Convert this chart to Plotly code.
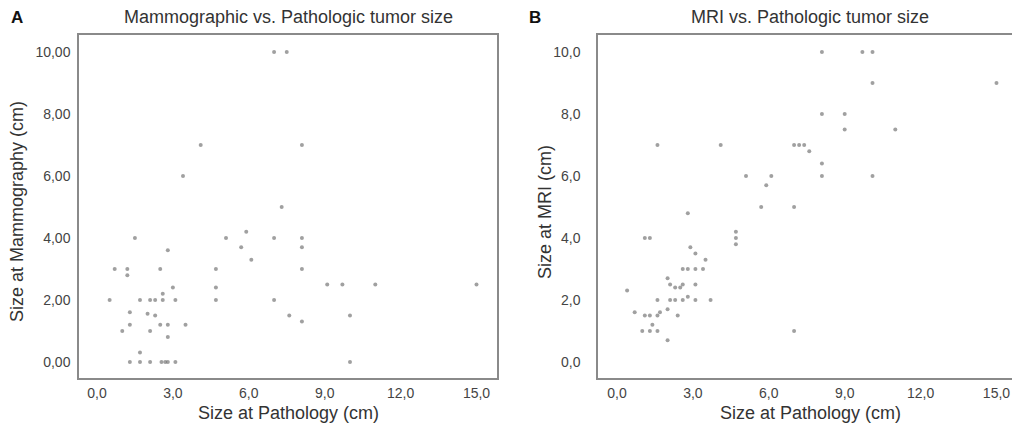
import plotly.graph_objects as go

# Panel A: Mammographic vs. pathologic tumor size (cm)
mammo_path = [0.5, 0.7, 1.0, 1.2, 1.2, 1.3, 1.3, 1.3, 1.7, 1.7, 1.7, 1.5, 2.0, 2.1, 2.1, 2.1,
              2.3, 2.3, 2.5, 2.5, 2.6, 2.6, 2.55, 2.7, 2.8, 2.8, 2.8, 2.8, 3.0, 3.1, 3.1, 3.5,
              3.4, 4.1, 4.7, 4.7, 4.7, 5.1, 5.7, 5.9, 6.1, 7.0, 7.0, 7.0, 7.3, 7.5, 7.6, 8.1,
              8.1, 8.1, 8.1, 8.1, 9.1, 9.7, 10.0, 10.0, 11.0, 15.0]
mammo_size = [2.0, 3.0, 1.0, 3.0, 2.8, 1.6, 1.2, 0.0, 0.0, 0.3, 2.0, 4.0, 1.55, 2.0, 1.0, 0.0,
              2.0, 1.5, 3.0, 1.2, 2.2, 2.0, 0.0, 0.0, 0.0, 1.2, 0.8, 3.6, 2.4, 2.0, 0.0, 1.2,
              6.0, 7.0, 3.0, 2.4, 2.0, 4.0, 3.7, 4.2, 3.3, 4.0, 2.0, 10.0, 5.0, 10.0, 1.5, 7.0,
              4.0, 3.7, 3.0, 1.3, 2.5, 2.5, 1.5, 0.0, 2.5, 2.5]

# Panel B: MRI vs. pathologic tumor size (cm)
mri_path = [0.4, 0.7, 1.0, 1.1, 1.1, 1.3, 1.3, 1.3, 1.4, 1.6, 1.6, 1.6, 1.6, 1.7, 2.0, 2.0,
            2.0, 2.1, 2.1, 2.3, 2.3, 2.4, 2.5, 2.6, 2.6, 2.6, 2.8, 2.8, 2.8, 2.9, 3.1, 3.1,
            3.1, 3.1, 3.4, 3.5, 3.7, 4.1, 4.7, 4.7, 4.7, 5.1, 5.7, 5.9, 6.1, 7.0, 7.0, 7.0,
            7.2, 7.4, 7.6, 8.1, 8.1, 8.1, 8.1, 9.0, 9.0, 9.7, 10.1, 10.1, 10.1, 11.0, 15.0]
mri_size = [2.3, 1.6, 1.0, 1.5, 4.0, 4.0, 1.5, 1.0, 1.2, 7.0, 2.0, 1.5, 1.0, 1.6, 1.7, 2.7,
            0.7, 2.5, 2.0, 2.4, 2.0, 1.5, 2.4, 2.5, 3.0, 2.0, 3.0, 2.1, 4.8, 3.7, 3.5, 3.0,
            2.5, 2.0, 3.0, 3.3, 2.0, 7.0, 4.2, 4.0, 3.8, 6.0, 5.0, 5.7, 6.0, 7.0, 5.0, 1.0,
            7.0, 7.0, 6.8, 10.0, 8.0, 6.4, 6.0, 8.0, 7.5, 10.0, 10.0, 9.0, 6.0, 7.5, 9.0]

x_ticks = [0, 3, 6, 9, 12, 15]
y_ticks = [0, 2, 4, 6, 8, 10]
panel_titles = ["Mammographic vs. Pathologic tumor size", "MRI vs. Pathologic tumor size"]
panel_letters = ["A", "B"]
x_title = "Size at Pathology (cm)"
y_titles = ["Size at Mammography (cm)", "Size at MRI (cm)"]

FONT = "Liberation Sans, Arial, sans-serif"
marker = dict(size=4, color="rgba(120,120,120,0.7)", line=dict(width=0))

# page body has an 8px margin; figure is sized/positioned to compensate
OFF = 8
W, H = 1012, 423


def px(x):
    return (x - OFF) / W


def py(y):
    return 1 - (y - OFF) / H


fig = go.Figure()
fig.add_trace(go.Scatter(x=mammo_path, y=mammo_size, mode="markers", marker=marker,
                         xaxis="x", yaxis="y", showlegend=False))
fig.add_trace(go.Scatter(x=mri_path, y=mri_size, mode="markers", marker=marker,
                         xaxis="x2", yaxis="y2", showlegend=False))

ydom = [py(378), py(35)]

axis_common = dict(showgrid=False, zeroline=False, showline=True, mirror=True,
                   linecolor="#8a8a8a", linewidth=1.5, ticks="",
                   tickfont=dict(family=FONT, size=14, color="#444"))

fig.update_layout(
    width=W, height=H,
    margin=dict(l=0, r=0, t=0, b=0),
    paper_bgcolor="white", plot_bgcolor="white",
    separators=", ",
    font=dict(family=FONT, color="#333"),
    xaxis=dict(domain=[px(79), px(497)], range=[-0.71, 15.81], tickvals=x_ticks,
               tickformat=".1f", anchor="y", ticklabelstandoff=1, **axis_common),
    yaxis=dict(domain=ydom, range=[-0.52, 10.55], tickvals=y_ticks, tickformat=".2f",
               anchor="x", ticklabelstandoff=4, **axis_common),
    xaxis2=dict(domain=[px(598), px(1018)], range=[-0.75, 15.85], tickvals=x_ticks,
                tickformat=".1f", anchor="y2", ticklabelstandoff=1, **axis_common),
    yaxis2=dict(domain=ydom, range=[-0.52, 10.55], tickvals=y_ticks, tickformat=".1f",
                anchor="x2", ticklabelstandoff=13, **axis_common),
)

title_font = dict(family=FONT, size=18, color="#333")
for i, (cx, lx, ytx) in enumerate([(288, 17, 17), (810, 535, 545)]):
    fig.add_annotation(x=px(cx), y=py(17), xref="paper", yref="paper", text=panel_titles[i],
                       showarrow=False, xanchor="center", yanchor="middle", font=title_font)
    fig.add_annotation(x=px(lx), y=py(17), xref="paper", yref="paper",
                       text="<b>" + panel_letters[i] + "</b>",
                       showarrow=False, xanchor="center", yanchor="middle",
                       font=dict(family=FONT, size=17, color="#111"))
    fig.add_annotation(x=px(cx), y=py(413), xref="paper", yref="paper", text=x_title,
                       showarrow=False, xanchor="center", yanchor="middle", font=title_font)
    fig.add_annotation(x=px(ytx), y=py(212), xref="paper", yref="paper", text=y_titles[i],
                       showarrow=False, xanchor="center", yanchor="middle", textangle=-90,
                       font=title_font)

fig.write_html("out.html")
